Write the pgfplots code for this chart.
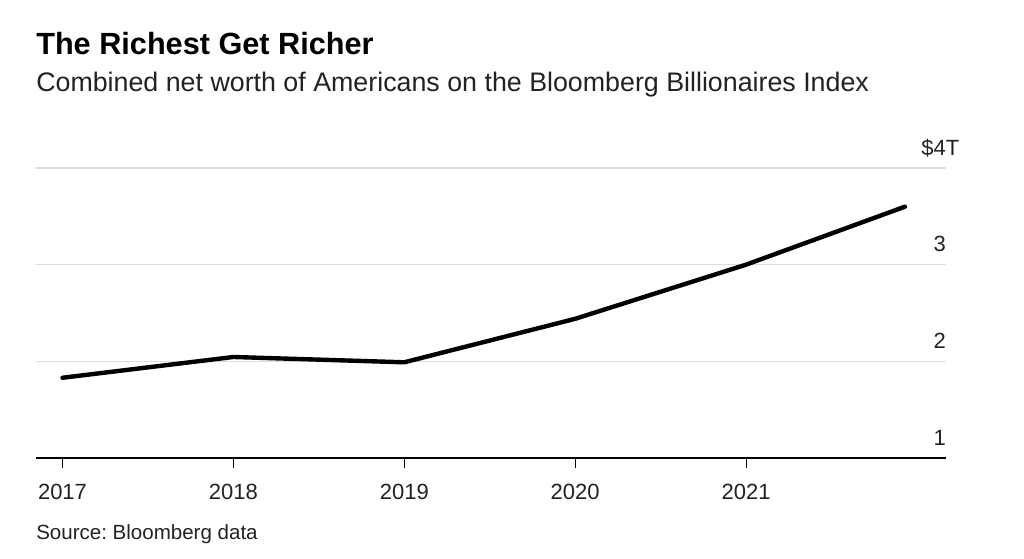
\documentclass[border=0pt]{standalone}
\usepackage{pgfplots}
\pgfplotsset{compat=1.18}
\usepackage{fontspec}
\setmainfont{Liberation Sans}
\frenchspacing
\definecolor{gridgray}{HTML}{DCDCDC}
\definecolor{labelgray}{HTML}{222222}
\begin{document}
\begin{tikzpicture}
\useasboundingbox (0,0) rectangle (768pt,-419.25pt);
\node[anchor=base west, inner sep=0, font=\fontsize{23pt}{26pt}\selectfont\bfseries] at (27pt,-41.25pt) {The Richest Get Richer};
\node[anchor=base west, inner sep=0, font=\fontsize{20.1pt}{24pt}\selectfont, text=labelgray] at (27pt,-69pt) {Combined net worth of Americans on the Bloomberg Billionaires Index};
\node[anchor=base west, inner sep=0, font=\fontsize{15.4pt}{18pt}\selectfont, text=labelgray] at (27pt,-404.25pt) {Source: Bloomberg data};
\begin{axis}[
  at={(27pt,-343.5pt)}, anchor=south west,
  width=682.5pt, height=217.5pt, scale only axis,
  xmin=2016.845, xmax=2022.17,
  ymin=1, ymax=4,
  axis x line*=bottom, axis y line*=right,
  y axis line style={draw=none},
  x axis line style={black, line width=1.1pt},
  xtick={2017,2018,2019,2020,2021},
  xticklabels={2017,2018,2019,2020,2021},
  ytick={1,2,3,4},
  yticklabels={1,2,3,{\llap{\$}4\rlap{T}}},
  ymajorgrids,
  major grid style={gridgray, line width=1.1pt},
  xtick align=outside,
  major tick length=7.5pt,
  xtick style={black, line width=0.8pt},
  ytick style={draw=none},
  /pgf/number format/assume math mode=true,
  tick label style={font=\fontsize{16.5pt}{19pt}\selectfont, text=labelgray},
  xticklabel style={anchor=base, yshift=-23.75pt, inner sep=0},
  yticklabel style={anchor=base east, inner sep=0, xshift=0pt, yshift=9.75pt},
  clip=false,
]
\addplot[black, line width=3.3pt, line join=round, line cap=round] coordinates {
  (2017,1.83) (2018,2.045) (2019,1.99) (2020,2.44) (2021,3.00) (2021.93,3.60)
};
\end{axis}
\end{tikzpicture}
\end{document}
